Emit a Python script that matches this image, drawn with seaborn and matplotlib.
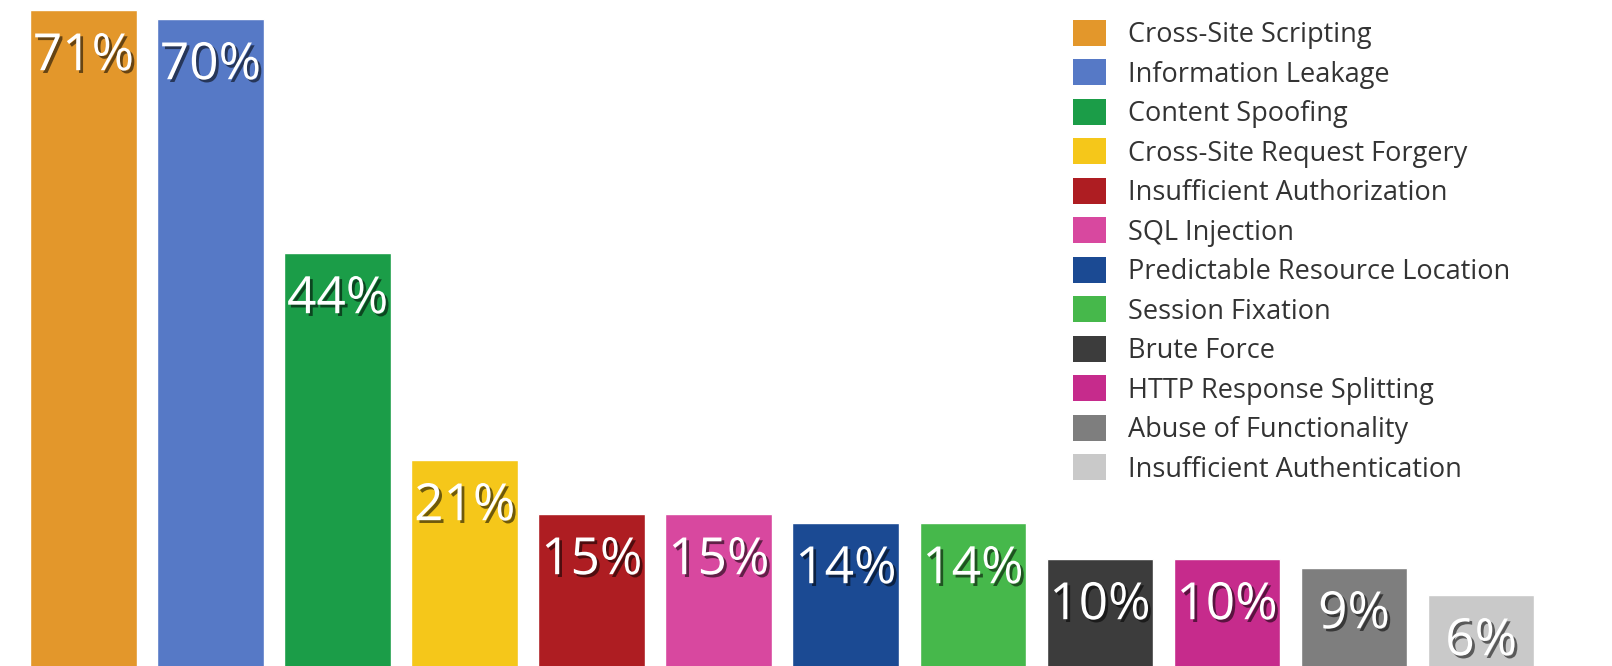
import matplotlib
matplotlib.use("Agg")
import matplotlib.pyplot as plt
import matplotlib.patheffects as pe
from matplotlib.patches import Patch
import seaborn as sns

categories = ["Cross-Site Scripting", "Information Leakage", "Content Spoofing",
              "Cross-Site Request Forgery", "Insufficient Authorization", "SQL Injection",
              "Predictable Resource Location", "Session Fixation", "Brute Force",
              "HTTP Response Splitting", "Abuse of Functionality", "Insufficient Authentication"]
values = [71, 70, 44, 21, 15, 15, 14, 14, 10, 10, 9, 6]
colors = ["#E3972B", "#5679C6", "#1B9D48", "#F5C71A", "#AE1D22", "#D8489F",
          "#1B4A93", "#46B84B", "#3C3C3C", "#C62B8C", "#7E7E7E", "#C9C9C9"]

sns.set_style("white")
plt.rcParams["font.family"] = ["Open Sans", "DejaVu Sans"]

fig = plt.figure(figsize=(16.12, 6.66), dpi=100)
ax = fig.add_axes([0, 0, 1, 1])

sns.barplot(x=categories, y=values, hue=categories, palette=colors,
            dodge=False, width=0.84, saturation=1, legend=False, ax=ax)

# bars run off the bottom of the picture
for p in ax.patches:
    p.set_y(-3)
    p.set_height(p.get_height() + 3)

ax.set_xlim(-0.657, 12.03)
ax.set_ylim(-1.9, 72.1)
ax.axis("off")

shadow = [pe.SimplePatchShadow(offset=(2, -2), shadow_rgbFace="black", alpha=0.55), pe.Normal()]
for i, v in enumerate(values):
    ax.text(i, v - 5.2, f"{v}%", ha="center", va="center", color="white",
            fontsize=37, path_effects=shadow)

handles = [Patch(facecolor=c, edgecolor="none") for c in colors]
ax.legend(handles, categories, loc="upper left", bbox_to_anchor=(1073 / 1612, 1 - 20 / 666),
          frameon=False, fontsize=19.5, handlelength=1.22, handleheight=1.1,
          labelspacing=0.38, handletextpad=0.8, borderpad=0, borderaxespad=0,
          labelcolor="#333333")

fig.savefig("out.png", dpi=100)
